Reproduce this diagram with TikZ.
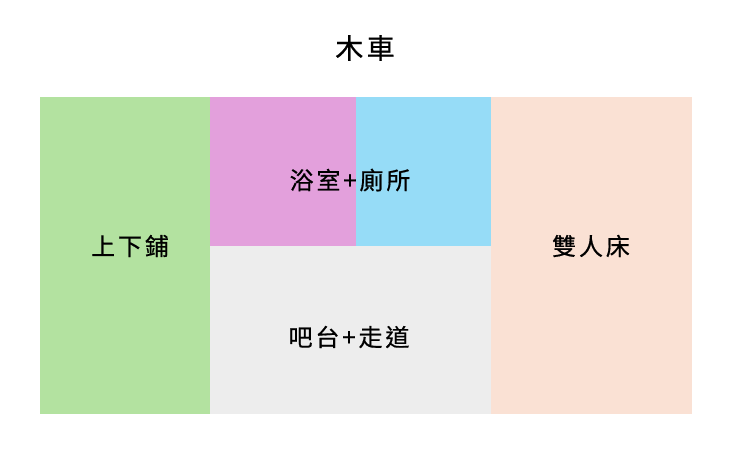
\documentclass[tikz,border=0pt]{standalone}
\usepackage{fontspec}
\newfontfamily\cjk[LetterSpace=12,FakeBold=0.6]{Noto Sans CJK TC}
\newfontfamily\cjktitle[LetterSpace=12,FakeBold=0.6]{Noto Sans CJK TC}
\usepackage{tikz}

\definecolor{bunkgreen}{HTML}{B3E2A0}
\definecolor{bathpink}{HTML}{E3A0DC}
\definecolor{toiletblue}{HTML}{96DCF7}
\definecolor{aislegrey}{HTML}{EDEDED}
\definecolor{bedpeach}{HTML}{FAE1D4}

\begin{document}
\begin{tikzpicture}[x=1pt,y=-1pt,
    label/.style={font=\cjk\fontsize{24}{26}\selectfont, text=black}]
    % Canvas
    \useasboundingbox (0,0) rectangle (730,460);

    % Rooms
    \fill[bunkgreen] (40,97) rectangle (210,414);
    \fill[bathpink] (210,97) rectangle (356,246);
    \fill[toiletblue] (356,97) rectangle (491,246);
    \fill[aislegrey] (210,246) rectangle (491,414);
    \fill[bedpeach] (491,97) rectangle (692,414);

    % Labels
    \node[font=\cjktitle\fontsize{28}{30}\selectfont] (title) at (365,48) {木車};
    \node[label] (bunk) at (130,246) {上下鋪};
    \node[label] (bath) at (350,180) {浴室+廁所};
    \node[label] (aisle) at (349,337) {吧台+走道};
    \node[label] (bed) at (591,246) {雙人床};
\end{tikzpicture}
\end{document}
